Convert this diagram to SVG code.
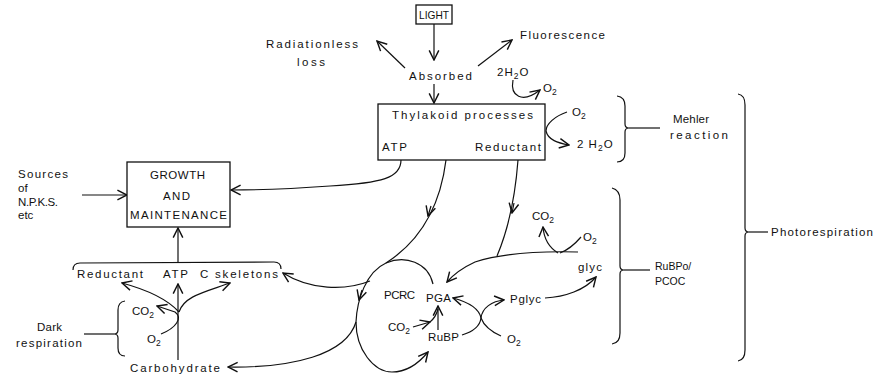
<svg xmlns="http://www.w3.org/2000/svg" width="879" height="380" viewBox="0 0 879 380">
<style>
text{font-family:"Liberation Sans",Arial,sans-serif;font-size:11.5px;fill:#111}
.sub{font-size:8.5px}
.sm{font-size:10.5px}
.ln{fill:none;stroke:#111;stroke-width:1.2}
.a{marker-end:url(#ah)}
.box{fill:#fff;stroke:#111;stroke-width:1.3}
</style>
<defs>
<marker id="ah" markerUnits="userSpaceOnUse" markerWidth="12" markerHeight="12" viewBox="0 0 10 10" refX="9" refY="5" orient="auto"><path d="M1,1 L9,5 L1,9" fill="none" stroke="#111" stroke-width="1.2"/></marker>
</defs>
<rect width="879" height="380" fill="#fff"/>

<g id="connectors">
<path class="ln a" d="M434,24 L434,60"/>
<path class="ln a" d="M405,68 L377,41"/>
<path class="ln a" d="M478,66 L512,40"/>
<path class="ln a" d="M434,84 L434,103"/>
<path class="ln a" d="M513,80 C510,96 522,104 540,90"/>
<path class="ln a" d="M415,127 L400,137"/>
<path class="ln a" d="M495,126 L508,135"/>
<path class="ln a" d="M567,112 C555,116 546,124 546,131 C548,140 558,143 569,145"/>
<path class="ln a" d="M401,160 C401,178 382,183 330,186 C290,189 260,190 231,190"/>
<path class="ln a" d="M82,195 L127,195"/>
<path class="ln a" d="M178,262 L178,228"/>
<path class="ln" d="M446,160 C441,200 425,238 386,263"/>
<path class="ln a" d="M431,206 L428,216"/>
<path class="ln a" d="M433,284 C428,262 405,255 386,263 C366,272 357,300 356,322 C356,350 374,372 392,372 C407,372 419,363 428,352"/>
<path class="ln a" d="M362,290 L359,300"/>
<path class="ln a" d="M370,281 C345,291 310,290 283,273"/>
<path class="ln a" d="M356,322 C346,355 292,368 228,367"/>
<path class="ln" d="M518,160 C515,200 508,230 497,256"/>
<path class="ln a" d="M514,203 L512,213"/>
<path class="ln a" d="M578,252 C540,251 500,254 475,262 C462,268 453,275 447,282"/>
<path class="ln a" d="M558,253 C550,248 544,240 543,227"/>
<path class="ln" d="M560,253 C568,250 575,244 581,237"/>
<path class="ln a" d="M545,298 C565,297 585,290 596,277"/>
<path class="ln a" d="M462,335 C472,332 480,326 481,318 C479,308 468,302 453,298"/>
<path class="ln a" d="M481,318 C482,308 492,301 504,300"/>
<path class="ln" d="M481,318 C484,326 492,332 501,336"/>
<path class="ln a" d="M413,327 L430,322"/>
<path class="ln" d="M430,322 Q436,317 438,309"/>
<path class="ln a" d="M438,330 L438,306"/>
<path class="ln a" d="M178,360 L178,284"/>
<path class="ln a" d="M179,312 C168,300 148,290 122,283"/>
<path class="ln a" d="M179,312 C184,296 205,292 230,283"/>
<path class="ln a" d="M161,334 C176,328 183,318 175,312 L157,306"/>
<path class="ln" d="M73,270 Q73,263 80,263 L274,262 Q281,262 281,269"/>
<path class="ln" d="M125,301 Q118,302 118,310 L118,330 Q118,334 114,334 Q118,334 118,338 L118,348 Q118,356 125,356"/>
<path class="ln" d="M84,334 L114,334"/>
<path class="ln" d="M617,96 Q625,97 625,106 L625,124 Q625,128 629,128 Q625,128 625,132 L625,153 Q625,162 617,162"/>
<path class="ln" d="M629,128 L660,128"/>
<path class="ln" d="M612,188 Q620,190 620,200 L620,266 Q620,270 624,270 Q620,270 620,274 L620,333 Q620,343 612,344"/>
<path class="ln" d="M624,270 L650,270"/>
<path class="ln" d="M738,94 Q745,95 745,105 L745,228 Q745,232 749,232 Q745,232 745,236 L745,350 Q745,360 738,361"/>
<path class="ln" d="M749,232 L768,232"/>
</g>

<g id="light"><rect class="box" x="416" y="5" width="36" height="19"/><text class="sm" x="419" y="18.5" textLength="30" lengthAdjust="spacingAndGlyphs">LIGHT</text></g>
<g id="radiationless"><text x="266" y="48" textLength="92" lengthAdjust="spacing">Radiationless</text><text x="297" y="66" textLength="28" lengthAdjust="spacing">loss</text></g>
<g id="absorbed"><text x="409" y="80" textLength="63" lengthAdjust="spacing">Absorbed</text></g>
<g id="fluorescence"><text x="520" y="39" textLength="85" lengthAdjust="spacing">Fluorescence</text></g>
<g id="water-top"><text x="497" y="76" letter-spacing="1">2H<tspan class="sub" dy="3">2</tspan><tspan dy="-3">O</tspan></text><text x="543" y="92">O<tspan class="sub" dy="3">2</tspan></text></g>
<g id="thylakoid"><rect class="box" x="378" y="104" width="167" height="56"/>
<text x="392" y="119" textLength="141" lengthAdjust="spacing">Thylakoid  processes</text>
<text x="382" y="151" textLength="25" lengthAdjust="spacing">ATP</text>
<text x="475" y="151" textLength="66" lengthAdjust="spacing">Reductant</text></g>
<g id="mehler-o2"><text x="572" y="116">O<tspan class="sub" dy="3">2</tspan></text><text x="577" y="148" letter-spacing="1">2 H<tspan class="sub" dy="3">2</tspan><tspan dy="-3">O</tspan></text></g>
<g id="mehler"><text x="673" y="123" textLength="36" lengthAdjust="spacing">Mehler</text><text x="670" y="139" textLength="58" lengthAdjust="spacing">reaction</text></g>
<g id="sources"><text x="18" y="178" textLength="50" lengthAdjust="spacing">Sources</text><text x="18" y="192">of</text><text x="18" y="206" textLength="40" lengthAdjust="spacing">N.P.K.S.</text><text x="18" y="219">etc</text></g>
<g id="growth"><rect class="box" x="127" y="162" width="103" height="65"/>
<text x="150" y="179" textLength="55" lengthAdjust="spacing">GROWTH</text>
<text x="163" y="200" textLength="27" lengthAdjust="spacing">AND</text>
<text x="130" y="219" textLength="97" lengthAdjust="spacing">MAINTENANCE</text></g>
<g id="products"><text x="77" y="278" textLength="66" lengthAdjust="spacing">Reductant</text><text x="163" y="278" textLength="25" lengthAdjust="spacing">ATP</text><text x="200" y="278" textLength="78" lengthAdjust="spacing">C  skeletons</text></g>
<g id="dark-respiration"><text x="37" y="331" textLength="25" lengthAdjust="spacing">Dark</text><text x="16" y="347" textLength="66" lengthAdjust="spacing">respiration</text>
<text x="132" y="315">CO<tspan class="sub" dy="3">2</tspan></text><text x="147" y="343">O<tspan class="sub" dy="3">2</tspan></text></g>
<g id="carbohydrate"><text x="130" y="372" textLength="90" lengthAdjust="spacing">Carbohydrate</text></g>
<g id="pcrc"><text x="384" y="299" textLength="31" lengthAdjust="spacing">PCRC</text><text x="426" y="302" textLength="25" lengthAdjust="spacing">PGA</text>
<text x="388" y="331">CO<tspan class="sub" dy="3">2</tspan></text><text x="428" y="341" textLength="31" lengthAdjust="spacing">RuBP</text>
<text x="507" y="343">O<tspan class="sub" dy="3">2</tspan></text><text x="510" y="303" textLength="31" lengthAdjust="spacing">Pglyc</text></g>
<g id="pcoc"><text x="532" y="220">CO<tspan class="sub" dy="3">2</tspan></text><text x="583" y="241">O<tspan class="sub" dy="3">2</tspan></text><text x="578" y="271" textLength="24" lengthAdjust="spacing">glyc</text></g>
<g id="rubpo"><text class="sm" x="655" y="270">RuBPo/</text><text class="sm" x="655" y="285">PCOC</text></g>
<g id="photorespiration"><text x="771" y="236" textLength="102" lengthAdjust="spacing">Photorespiration</text></g>
</svg>
